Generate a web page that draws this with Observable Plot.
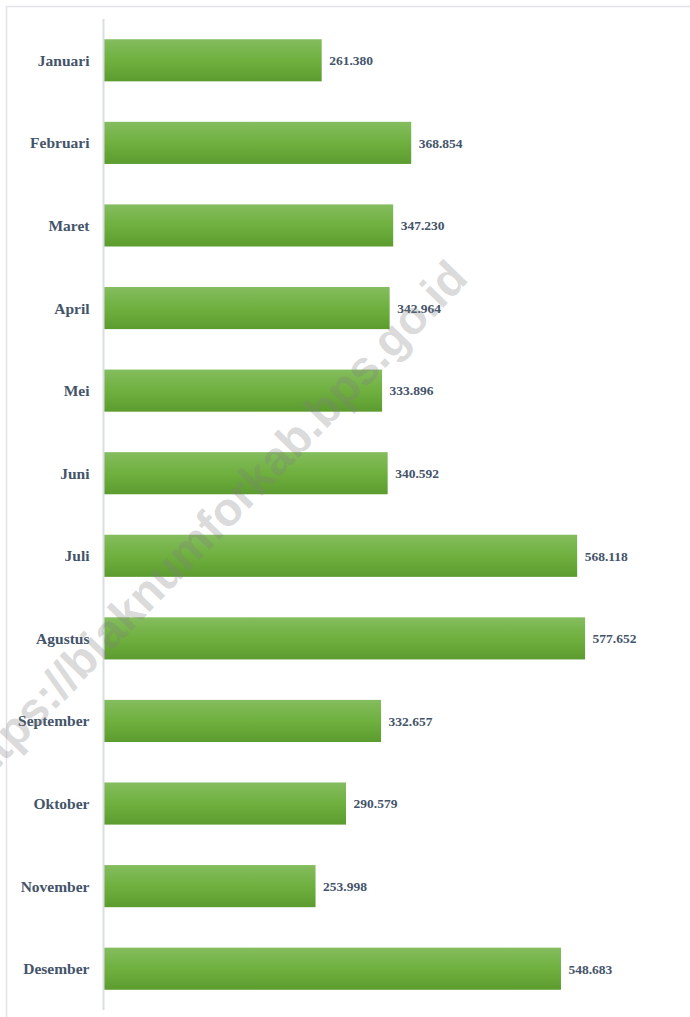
<!DOCTYPE html>
<html>
<head>
<meta charset="utf-8">
<script src="https://cdn.jsdelivr.net/npm/d3@7"></script>
<script src="https://cdn.jsdelivr.net/npm/@observablehq/plot@0.6"></script>
<style>
  html, body { margin: 0; padding: 0; background: #ffffff; }
  #chart { position: relative; width: 690px; height: 1017px; }
</style>
</head>
<body>
<div id="chart"></div>
<script>
const months = ["Januari","Februari","Maret","April","Mei","Juni","Juli","Agustus","September","Oktober","November","Desember"];
const values = [261380, 368854, 347230, 342964, 333896, 340592, 568118, 577652, 332657, 290579, 253998, 548683];
const watermarkText = "https://biaknumforkab.bps.go.id";

const data = months.map((m, i) => ({month: m, value: values[i]}));
const fmt = d3.formatLocale({decimal: ",", thousands: ".", grouping: [3], currency: ["Rp", ""]}).format(",d");
const textColor = "#44546a";

const svg = Plot.plot({
  width: 690,
  height: 1017,
  marginLeft: 104,
  marginRight: 3,
  marginTop: 19,
  marginBottom: 7,
  style: {fontFamily: "'Liberation Serif', 'Times New Roman', serif", background: "transparent"},
  x: {domain: [0, 700000], axis: null},
  y: {domain: months, paddingInner: 0.49, paddingOuter: 0.245, round: false, label: null, axis: null},
  marks: [
    Plot.axisY({tickSize: 0, tickPadding: 15, fontSize: 15.5, fontWeight: "bold", fill: textColor, label: null}),
    Plot.barX(data, {y: "month", x: "value", fill: "url(#barGrad)"}),
    Plot.ruleX([0], {stroke: "#d9dde4", strokeWidth: 2, dx: -1}),
    Plot.text(data, {y: "month", x: "value", text: d => fmt(d.value), textAnchor: "start", dx: 7, fontSize: 13.5, fontWeight: "bold", fill: textColor})
  ]
});

const s = d3.select(svg);
const defs = s.insert("defs", ":first-child");
const g = defs.append("linearGradient").attr("id", "barGrad").attr("x1", 0).attr("y1", 0).attr("x2", 0).attr("y2", 1);
g.append("stop").attr("offset", "0%").attr("stop-color", "#84bd5e");
g.append("stop").attr("offset", "50%").attr("stop-color", "#6fb03f");
g.append("stop").attr("offset", "100%").attr("stop-color", "#5c9c2f");

// frame lines (top and left)
s.append("line").attr("x1", 6).attr("y1", 6.5).attr("x2", 690).attr("y2", 6.5).attr("stroke", "#e3e3ea").attr("stroke-width", 1.5);
s.append("line").attr("x1", 6.5).attr("y1", 6).attr("x2", 6.5).attr("y2", 1017).attr("stroke", "#e3e3ea").attr("stroke-width", 1.5);

// watermark
s.append("text")
  .attr("transform", "translate(470,280) rotate(-46)")
  .attr("text-anchor", "end")
  .attr("font-family", "'Liberation Sans', Arial, sans-serif")
  .attr("font-weight", "bold")
  .attr("font-size", 47)
  .attr("fill", "#808080")
  .attr("fill-opacity", 0.3)
  .text(watermarkText);

document.getElementById("chart").appendChild(svg);
</script>
</body>
</html>
